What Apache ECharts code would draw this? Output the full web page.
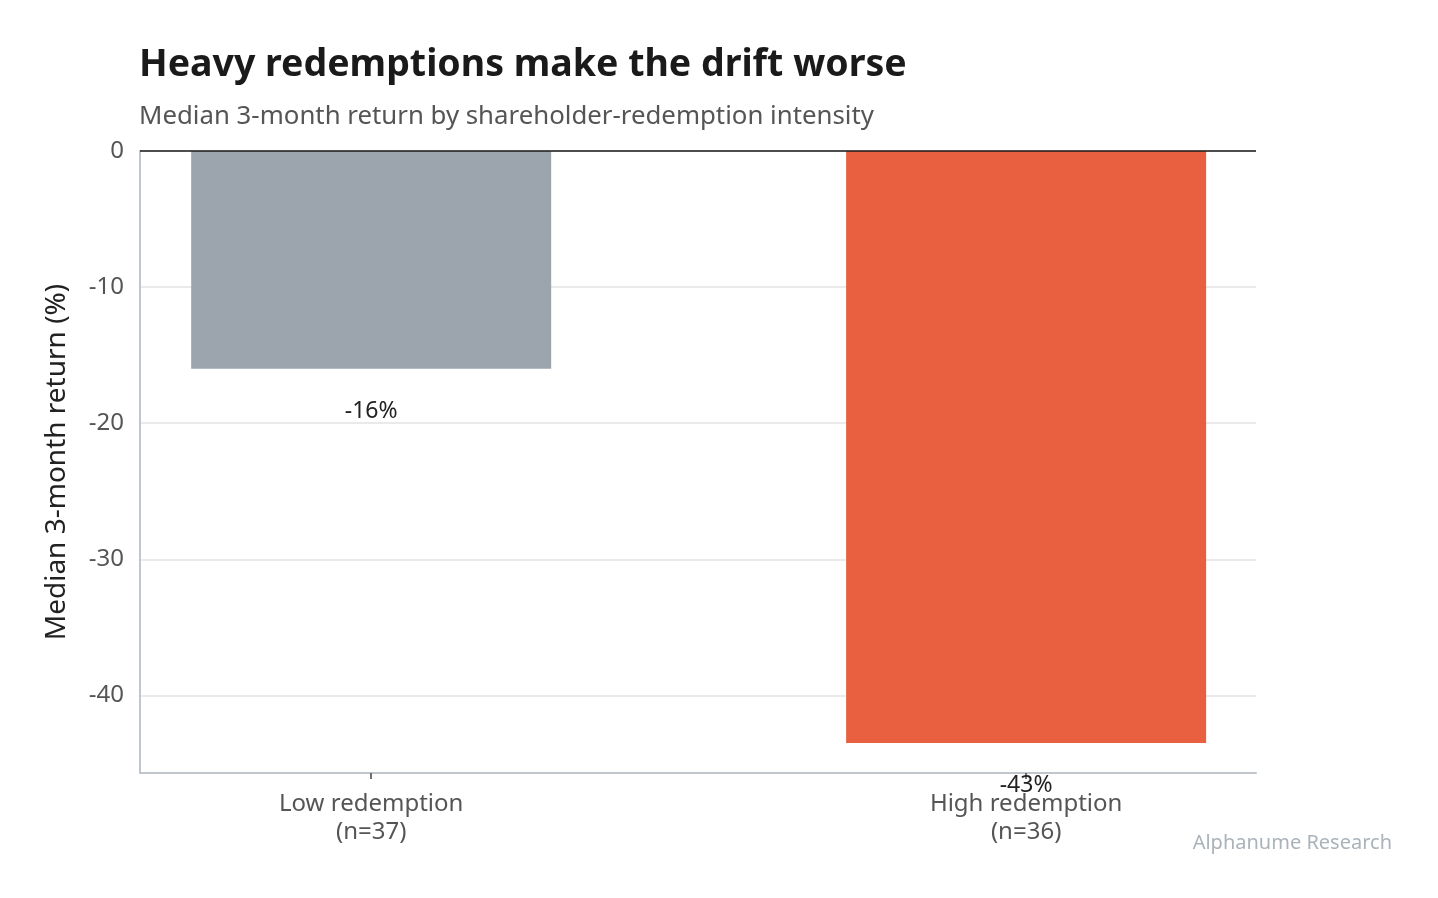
<!DOCTYPE html>
<html>
<head>
<meta charset="utf-8">
<script src="https://cdn.jsdelivr.net/npm/echarts@6/dist/echarts.min.js"></script>
<style>
html,body{margin:0;padding:0;background:#fff;}
#chart{width:1438px;height:898px;}
</style>
</head>
<body>
<div id="chart"></div>
<script>
const categories = ['Low redemption', 'High redemption'];
const counts = [37, 36];
const values = [-16, -43.5];
const barColors = ['#9ca5ae', '#e8603f'];
const yTicks = [0, -10, -20, -30, -40];

const FONT = '"Noto Sans", "Open Sans", sans-serif';
const chart = echarts.init(document.getElementById('chart'), null, {renderer: 'canvas'});

const option = {
  backgroundColor: '#ffffff',
  animation: false,
  title: {
    text: 'Heavy redemptions make the drift worse',
    subtext: 'Median 3-month return by shareholder-redemption intensity',
    left: 134,
    top: 41,
    itemGap: 20,
    textStyle: {fontFamily: FONT, fontWeight: 'bold', fontSize: 37.5, color: '#1a1a1a'},
    subtextStyle: {fontFamily: FONT, fontSize: 25.8, color: '#555555'}
  },
  graphic: [{
    type: 'text',
    right: 46,
    top: 833,
    style: {text: 'Alphanume Research', font: '20px ' + FONT, fill: '#aab2ba'}
  }],
  grid: {left: 140, right: 182, top: 151, bottom: 125, containLabel: false},
  xAxis: {
    type: 'value',
    min: -0.353,
    max: 1.351,
    splitLine: {show: false},
    axisLine: {show: true, onZero: false, lineStyle: {color: '#c0c6cc', width: 2}},
    axisTick: {show: true, customValues: [0, 1], length: 6, lineStyle: {color: '#444', width: 1.5}},
    axisLabel: {
      customValues: [0, 1],
      margin: 17,
      fontFamily: FONT, fontSize: 24, color: '#555555', lineHeight: 28,
      formatter: function (v) {
        const i = Math.round(v);
        return categories[i] + '\n(n=' + counts[i] + ')';
      }
    }
  },
  yAxis: {
    type: 'value',
    min: -45.7,
    max: 0,
    name: 'Median 3-month return (%)',
    nameLocation: 'middle',
    nameGap: 69,
    nameTextStyle: {fontFamily: FONT, fontSize: 28, color: '#222222'},
    axisLine: {show: true, onZero: false, lineStyle: {color: '#c0c6cc', width: 2}},
    axisTick: {show: false},
    axisLabel: {
      customValues: yTicks,
      margin: 16,
      fontFamily: FONT, fontSize: 24, color: '#555555'
    },
    splitLine: {show: true, lineStyle: {color: '#e3e3e3', width: 1.5}}
  },
  series: [{
    type: 'bar',
    barWidth: 360,
    data: values.map(function (v, i) {
      return {value: [i, v], itemStyle: {color: barColors[i]}};
    }),
    label: {
      show: true,
      position: 'bottom',
      distance: 31,
      fontFamily: FONT, fontSize: 23, color: '#222222',
      formatter: function (p) { return Math.round(p.value[1]) + '%'; }
    },
    markLine: {
      silent: true,
      symbol: 'none',
      label: {show: false},
      lineStyle: {color: '#1a1a1a', width: 1.5, type: 'solid'},
      data: [{yAxis: 0}]
    },
    z: 2
  }]
};
chart.setOption(option);
</script>
</body>
</html>
